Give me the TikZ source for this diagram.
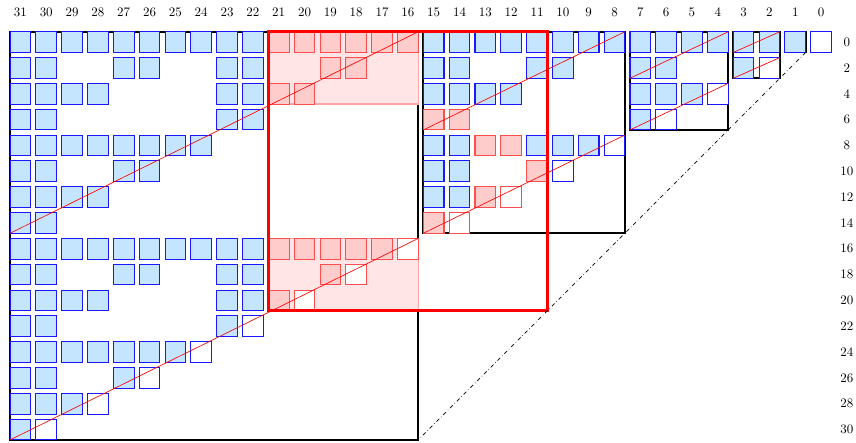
\documentclass[tikz,border=0pt]{standalone}
\definecolor{cellblue}{RGB}{197,229,255}
\tikzset{
    bluecell/.style={draw=blue!90, fill=cellblue, line width=0.8pt},
    emptycell/.style={draw=blue!90, fill=white, line width=0.8pt},
    redcell/.style={draw=red!70, fill=red!20, line width=0.8pt},
    redempty/.style={draw=red!70, fill=white, line width=0.8pt},
    shade/.style={draw=red!35, fill=red!10, line width=1pt},
    block/.style={draw=black, line width=1.6pt},
    halfdiag/.style={draw=red, line width=0.5pt}
}
\begin{document}
\begin{tikzpicture}[x=0.7cm, y=0.7cm]
    \useasboundingbox (-0.79,1.63) rectangle (32.35,-15.52);

    % Blocks
    \foreach \a/\n in {0/16, 16/8, 24/4, 28/2, 30/1} {
        \draw[block] ({\a-0.4}, 0.4) rectangle ({\a+\n-0.6}, {-\n+0.6});
    }

    % Query range, shaded parts
    \fill[shade] (9.6, 0.4) rectangle (15.4, -2.4);
    \fill[shade] (9.6, -7.6) rectangle (15.4, -10.4);
    \draw[shade, fill=none] (9.6, 0.4) rectangle (15.4, -2.4);
    \draw[shade, fill=none] (9.6, -7.6) rectangle (15.4, -10.4);

    % Cells
    \foreach \r/\cs in {0/{1,2,...,15,22,23,...,31}, 2/{3,6,7,10,11,14,15,22,23,26,27,30,31},
        4/{5,6,7,12,13,14,15,22,23,28,29,30,31}, 6/{7,22,23,30,31},
        8/{9,10,11,14,15,24,25,...,31}, 10/{14,15,26,27,30,31},
        12/{14,15,28,29,30,31}, 14/{30,31}, 16/{22,23,...,31},
        18/{22,23,26,27,30,31}, 20/{22,23,28,29,30,31}, 22/{23,30,31},
        24/{25,26,...,31}, 26/{27,30,31}, 28/{29,30,31}, 30/{31}} {
        \foreach \c in \cs {
            \draw[bluecell] ({31-\c-0.4}, {-\r/2-0.4}) rectangle ++(0.8, 0.8);
        }
    }
    \foreach \r/\cs in {0/{16,17,...,21}, 2/{18,19}, 4/{20,21}, 6/{14,15}, 8/{12,13},
        10/{11}, 12/{13}, 14/{15}, 16/{17,18,...,21}, 18/{19}, 20/{21}} {
        \foreach \c in \cs {
            \draw[redcell] ({31-\c-0.4}, {-\r/2-0.4}) rectangle ++(0.8, 0.8);
        }
    }
    \foreach \r in {0,2,...,10,22,24,...,30} {
        \draw[emptycell] ({31-\r-0.4}, {-\r/2-0.4}) rectangle ++(0.8, 0.8);
    }
    \foreach \r in {12,14,...,20} {
        \draw[redempty] ({31-\r-0.4}, {-\r/2-0.4}) rectangle ++(0.8, 0.8);
    }

    % Diagonals of the half blocks
    \foreach \a/\n/\h in {0/16/8, 16/8/4, 24/4/2, 28/2/1} {
        \draw[halfdiag] ({\a-0.4}, {-\h+0.6}) -- ({\a+\n-0.6}, 0.4);
        \draw[halfdiag] ({\a-0.4}, {-\n+0.6}) -- ({\a+\n-0.6}, {-\h+0.4});
    }

    % Query range
    \draw[red, line width=2pt] (9.6, 0.4) rectangle (20.4, -10.4);

    \draw[dash dot, line width=0.5pt] (30.4, -0.4) -- (15.4, -15.4);

    % Labels
    \foreach \c in {0,...,31} {
        \node (col\c) at ({31-\c}, 1.16) {\c};
    }
    \foreach \r in {0,2,...,30} {
        \node (row\r) at (32, {-\r/2}) {\r};
    }
\end{tikzpicture}
\end{document}
